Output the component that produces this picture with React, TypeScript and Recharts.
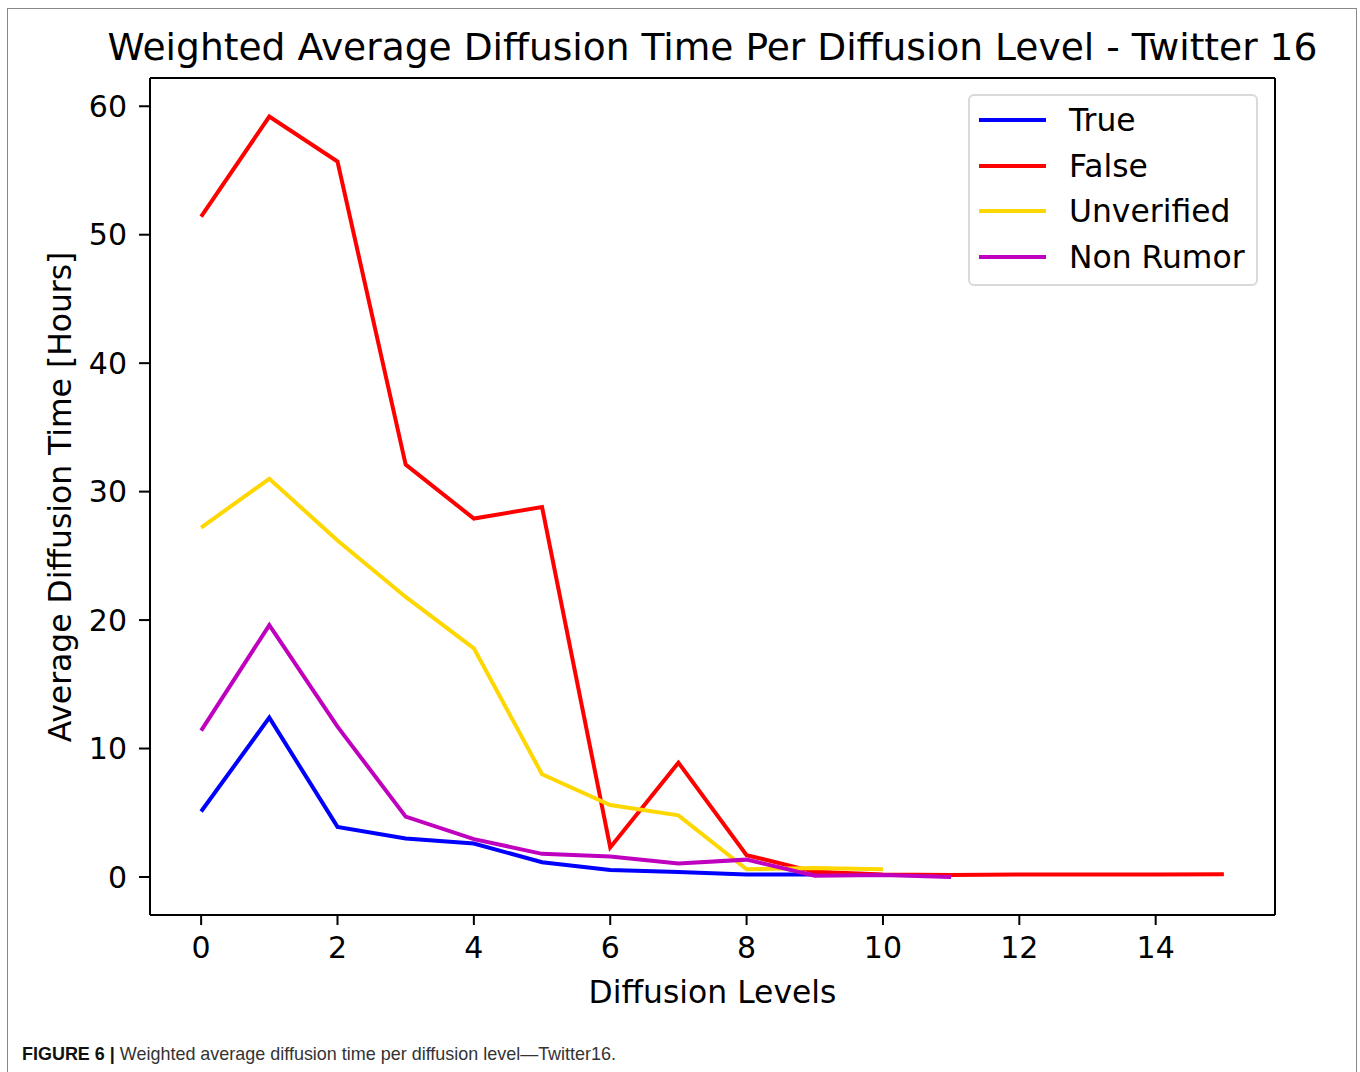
import { LineChart, Line, XAxis, YAxis, Legend, ReferenceLine } from "recharts";

const levels = [0, 1, 2, 3, 4, 5, 6, 7, 8, 9, 10, 11, 12, 13, 14, 15];
const trueVals = [5.1, 12.4, 3.9, 3.0, 2.6, 1.15, 0.55, 0.38, 0.2, 0.2, 0.15];
const falseVals = [51.4, 59.2, 55.7, 32.1, 27.9, 28.8, 2.3, 8.9, 1.7, 0.4, 0.2, 0.15, 0.2, 0.2, 0.2, 0.22];
const unverifiedVals = [27.2, 31.0, 26.2, 21.8, 17.8, 8.0, 5.6, 4.8, 0.6, 0.7, 0.6];
const nonRumorVals = [11.4, 19.6, 11.7, 4.7, 2.95, 1.8, 1.6, 1.05, 1.35, 0.1, 0.15, 0.0];

const xTicks = [0, 2, 4, 6, 8, 10, 12, 14];
const yTicks = [0, 10, 20, 30, 40, 50, 60];
const xDomain = [-0.75, 15.75];
const yDomain = [-2.96, 62.2];

const series = [
  { key: "trueV", name: "True", color: "#0000ff" },
  { key: "falseV", name: "False", color: "#ff0000" },
  { key: "unverified", name: "Unverified", color: "#ffd700" },
  { key: "nonRumor", name: "Non Rumor", color: "#bf00bf" },
];

const data = levels.map((level, i) => ({
  level,
  trueV: trueVals[i],
  falseV: falseVals[i],
  unverified: unverifiedVals[i],
  nonRumor: nonRumorVals[i],
}));

const FONT = "'DejaVu Sans', sans-serif";
const tickStyle = { fontFamily: FONT, fontSize: 30, fill: "#000" };

function LegendBox() {
  return (
    <div
      style={{
        width: 290,
        height: 192,
        boxSizing: "border-box",
        border: "2.5px solid #d9d9d9",
        borderRadius: 6,
        background: "#fff",
        position: "relative",
        fontFamily: FONT,
        fontSize: 31.4,
        color: "#000",
      }}
    >
      {series.map((s, i) => (
        <div
          key={s.key}
          style={{ position: "absolute", left: 0, top: 24 + i * 45.7 - 18, height: 36, width: 280 }}
        >
          <div
            style={{
              position: "absolute",
              left: 9,
              top: 16,
              width: 67,
              height: 4,
              background: s.color,
            }}
          />
          <div style={{ position: "absolute", left: 99, top: 0, lineHeight: "36px", whiteSpace: "nowrap" }}>
            {s.name}
          </div>
        </div>
      ))}
    </div>
  );
}

export default function App() {
  return (
    <div
      style={{
        position: "absolute",
        left: 0,
        top: 0,
        width: 1360,
        height: 1072,
        overflow: "hidden",
        background: "#fff",
      }}
    >
      {/* figure frame */}
      <div
        style={{
          position: "absolute",
          left: 7,
          top: 8,
          width: 1350,
          height: 1070,
          boxSizing: "border-box",
          border: "1.5px solid #888",
          borderBottom: "none",
        }}
      />
      <LineChart
        width={1360}
        height={1072}
        data={data}
        margin={{ top: 78, right: 85, bottom: 97, left: 50 }}
        style={{ position: "absolute", left: 0, top: 0 }}
      >
        <XAxis
          dataKey="level"
          type="number"
          domain={xDomain}
          allowDataOverflow
          ticks={xTicks}
          height={60}
          tick={tickStyle}
          tickSize={10}
          tickMargin={12}
          axisLine={{ stroke: "#000", strokeWidth: 2 }}
          tickLine={{ stroke: "#000", strokeWidth: 2 }}
        />
        <YAxis
          type="number"
          domain={yDomain}
          allowDataOverflow
          ticks={yTicks}
          width={100}
          tick={tickStyle}
          tickSize={11}
          tickMargin={12}
          axisLine={{ stroke: "#000", strokeWidth: 2 }}
          tickLine={{ stroke: "#000", strokeWidth: 2 }}
        />
        <ReferenceLine y={yDomain[1]} stroke="#000" strokeWidth={2} />
        <ReferenceLine x={xDomain[1]} stroke="#000" strokeWidth={2} />
        {series.map((s) => (
          <Line
            key={s.key}
            type="linear"
            dataKey={s.key}
            name={s.name}
            stroke={s.color}
            strokeWidth={4}
            dot={false}
            activeDot={false}
            isAnimationActive={false}
            strokeLinejoin="miter"
          />
        ))}
        <Legend
          layout="horizontal"
          verticalAlign="middle"
          align="center"
          content={() => <LegendBox />}
          wrapperStyle={{ position: "absolute", left: 968, top: 94, width: 290, height: 192 }}
        />
      </LineChart>
      <svg
        width={1360}
        height={1072}
        style={{ position: "absolute", left: 0, top: 0, pointerEvents: "none" }}
      >
        <text x={712.5} y={60} textAnchor="middle" fontFamily={FONT} fontSize={37.6} fill="#000">
          Weighted Average Diffusion Time Per Diffusion Level - Twitter 16
        </text>
        <text x={712.5} y={1003} textAnchor="middle" fontFamily={FONT} fontSize={31.4} fill="#000">
          Diffusion Levels
        </text>
        <text
          x={0}
          y={0}
          transform="translate(71 497) rotate(-90)"
          textAnchor="middle"
          fontFamily={FONT}
          fontSize={31.4}
          fill="#000"
        >
          Average Diffusion Time [Hours]
        </text>
        <text
          x={22}
          y={1060}
          fontFamily="'Liberation Sans', Arial, sans-serif"
          fontSize={19}
          fill="#333"
          textLength={594}
          lengthAdjust="spacingAndGlyphs"
        >
          <tspan fontWeight="bold" fill="#111">FIGURE 6 |</tspan>
          <tspan> Weighted average diffusion time per diffusion level—Twitter16.</tspan>
        </text>
      </svg>
    </div>
  );
}
